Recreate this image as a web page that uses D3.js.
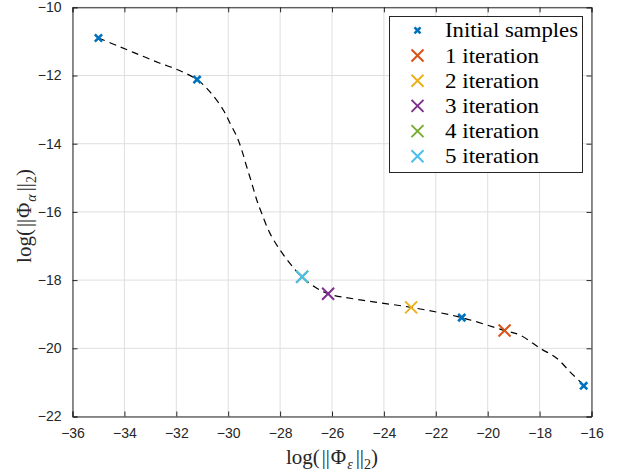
<!DOCTYPE html>
<html>
<head>
<meta charset="utf-8">
<script src="https://cdn.jsdelivr.net/npm/d3@7"></script>
<style>
  html, body { margin: 0; padding: 0; background: #fff; }
  svg { display: block; }
</style>
</head>
<body>
<svg id="chart" width="622" height="475"></svg>
<script>
// ---- data ----
const xTicks = [-36, -34, -32, -30, -28, -26, -24, -22, -20, -18, -16];
const yTicks = [-22, -20, -18, -16, -14, -12, -10];

const curveX = [-35, -34.17, -33.4, -32.63, -31.92, -31.2, -30.7, -30.19, -29.93, -29.67, -29.48, -29.29, -29.09, -28.9, -28.71, -28.39, -28.0, -27.62, -27.17, -26.66, -26.15, -24.92, -22.95, -21.0, -19.35, -18.76, -17.98, -17.34, -16.83, -16.44, -16.3];
const curveY = [-10.9, -11.16, -11.4, -11.64, -11.84, -12.12, -12.48, -13.01, -13.4, -13.79, -14.18, -14.67, -15.16, -15.65, -16.04, -16.63, -17.12, -17.51, -17.9, -18.2, -18.4, -18.58, -18.8, -19.1, -19.48, -19.61, -20.0, -20.29, -20.69, -20.98, -21.1];

const initX = [-35, -31.2, -21, -16.3];
const initY = [-10.9, -12.12, -19.1, -21.1];

const iterLabels = ["1 iteration", "2 iteration", "3 iteration", "4 iteration", "5 iteration"];
const iterX = [-19.35, -22.95, -26.15, -27.15, -27.15];
const iterY = [-19.48, -18.8, -18.4, -17.9, -17.9];
const iterColors = ["#D95319", "#EDB120", "#7E2F8E", "#77AC30", "#4DBEEE"];
const initColor = "#0072BD";
const initLabel = "Initial samples";

// ---- layout ----
const L = 72.5, R = 591.5, T = 7.3, B = 416.5;
const svg = d3.select("#chart");
const x = d3.scaleLinear().domain([-36, -16]).range([L, R]);
const y = d3.scaleLinear().domain([-22, -10]).range([B, T]);
const axisColor = "#262626";

// grid
const g = svg.append("g");
g.selectAll(".gx").data(xTicks).enter().append("line")
  .attr("x1", d => x(d)).attr("x2", d => x(d)).attr("y1", T).attr("y2", B)
  .attr("stroke", "#dfdfdf").attr("stroke-width", 1);
g.selectAll(".gy").data(yTicks).enter().append("line")
  .attr("y1", d => y(d)).attr("y2", d => y(d)).attr("x1", L).attr("x2", R)
  .attr("stroke", "#dfdfdf").attr("stroke-width", 1);

// axes (box, inward ticks)
const tl = 5;
const ax = svg.append("g");
ax.append("g").attr("transform", `translate(0,${B})`)
  .call(d3.axisBottom(x).tickValues(xTicks).tickSize(-tl).tickPadding(12).tickFormat(d3.format("d")));
ax.append("g").attr("transform", `translate(0,${T})`)
  .call(d3.axisTop(x).tickValues(xTicks).tickSize(-tl).tickFormat(""));
ax.append("g").attr("transform", `translate(${L},0)`)
  .call(d3.axisLeft(y).tickValues(yTicks).tickSize(-tl).tickPadding(11).tickFormat(d3.format("d")));
ax.append("g").attr("transform", `translate(${R},0)`)
  .call(d3.axisRight(y).tickValues(yTicks).tickSize(-tl).tickFormat(""));
ax.selectAll(".domain").attr("stroke", axisColor).attr("stroke-width", 1);
ax.selectAll(".tick line").attr("stroke", axisColor);
ax.selectAll(".tick text").attr("fill", axisColor)
  .style("font-family", "'Liberation Sans', Arial, sans-serif").style("font-size", "14px");

// dashed curve
const pts = curveX.map((d, i) => [d, curveY[i]]);
svg.append("path")
  .attr("d", d3.line().x(d => x(d[0])).y(d => y(d[1])).curve(d3.curveCatmullRom)(pts))
  .attr("fill", "none").attr("stroke", "#000").attr("stroke-width", 1.2)
  .attr("stroke-dasharray", "7,5");

// markers
function xMark(s) {
  return `M${-s},${-s}L${s},${s}M${-s},${s}L${s},${-s}`;
}
svg.selectAll(".init").data(initX).enter().append("path")
  .attr("transform", (d, i) => `translate(${x(d)},${y(initY[i])})`)
  .attr("d", xMark(3.6)).attr("stroke", initColor).attr("stroke-width", 2.6).attr("fill", "none");
svg.selectAll(".iter").data(iterX).enter().append("path")
  .attr("transform", (d, i) => `translate(${x(d)},${y(iterY[i])})`)
  .attr("d", xMark(6)).attr("stroke", (d, i) => iterColors[i]).attr("stroke-width", 2).attr("fill", "none");

// axis labels
const serif = "'Liberation Serif', 'Times New Roman', serif";
function mathLabel(sel, sub) {
  sel.append("tspan").text("log(");
  sel.append("tspan").attr("dx", 2).attr("font-size", "20px").text("||");
  sel.append("tspan").attr("dx", 1).text("Φ");
  sel.append("tspan").attr("font-style", "italic").attr("font-size", "14px").attr("dy", 5).attr("dx", 1).text(sub);
  sel.append("tspan").attr("dy", -5).attr("dx", 3).text("||");
  sel.append("tspan").attr("font-size", "14px").attr("dy", 5).text("2");
  sel.append("tspan").attr("dy", -5).text(")");
}
const xl = svg.append("text").attr("x", (L + R) / 2).attr("y", 464)
  .attr("text-anchor", "middle").style("font-family", serif).style("font-size", "21px").attr("fill", axisColor);
mathLabel(xl, "ε");

const yl = svg.append("text").attr("transform", `translate(31,${(T + B) / 2 + 4}) rotate(-90)`)
  .attr("text-anchor", "middle").style("font-family", serif).style("font-size", "21px").attr("fill", axisColor);
mathLabel(yl, "α");

// legend
const lg = svg.append("g");
lg.append("rect").attr("x", 389.5).attr("y", 16.5).attr("width", 193).attr("height", 156)
  .attr("fill", "#fff").attr("stroke", axisColor).attr("stroke-width", 1);
const entries = [{label: initLabel, color: initColor, s: 3, w: 2.6, tw: 133}]
  .concat(iterLabels.map((l, i) => ({label: l, color: iterColors[i], s: 6, w: 2, tw: 94})));
entries.forEach((e, i) => {
  const cy = 30.3 + i * 25.2;
  lg.append("path").attr("transform", `translate(417.5,${cy})`).attr("d", xMark(e.s))
    .attr("stroke", e.color).attr("stroke-width", e.w).attr("fill", "none");
  lg.append("text").attr("x", 445).attr("y", cy + 7).text(e.label)
    .attr("textLength", e.tw).attr("lengthAdjust", "spacingAndGlyphs")
    .style("font-family", serif).style("font-size", "21px").attr("fill", "#000");
});
</script>
</body>
</html>
